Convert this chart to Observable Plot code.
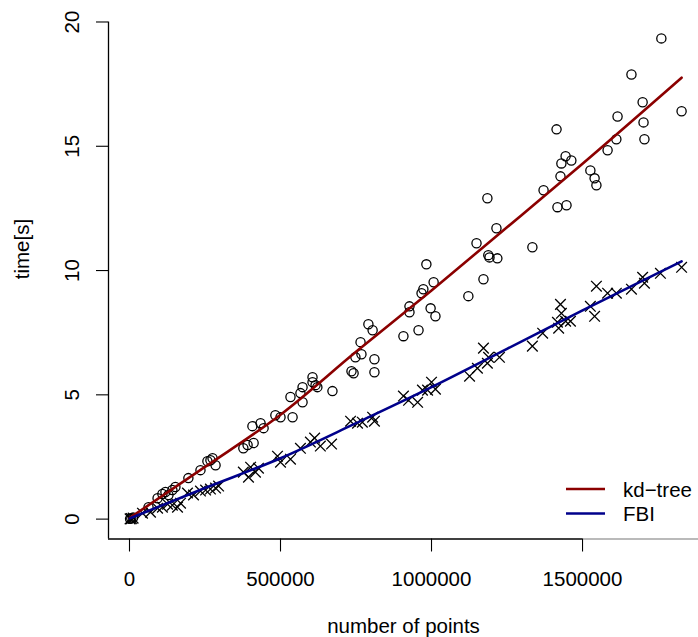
<!DOCTYPE html>
<html><head><meta charset="utf-8">
<script src="https://cdn.jsdelivr.net/npm/d3@7"></script>
<script src="https://cdn.jsdelivr.net/npm/@observablehq/plot@0.6"></script>
<style>body{margin:0;background:#fff} svg{display:block}</style>
</head><body><div id="chart"></div>
<script>
// kd-tree measurements (number of points, seconds)
const kdN = [2000, 6000, 12000, 63000, 93000, 109000, 119000, 129000, 142000, 152000, 195000, 235000, 258000, 275000, 285000, 268000,
  377000, 391000, 411000, 407000, 434000, 444000, 483000, 500000, 533000, 540000, 566000, 573000, 573000, 606000, 606000, 616000, 622000, 672000,
  735000, 742000, 748000, 768000, 765000, 791000, 805000, 811000, 811000, 907000, 927000, 927000, 957000, 967000, 973000, 983000, 997000, 1013000, 1007000,
  1122000, 1149000, 1172000, 1185000, 1188000, 1192000, 1218000, 1215000, 1334000, 1371000, 1414000, 1417000, 1447000, 1427000, 1430000, 1444000, 1463000,
  1526000, 1540000, 1546000, 1583000, 1612000, 1616000, 1662000, 1699000, 1702000, 1705000, 1761000, 1828000];
const kdTime = [0.01, 0.03, 0.06, 0.48, 0.84, 1.01, 1.09, 0.97, 1.17, 1.29, 1.65, 1.97, 2.33, 2.45, 2.17, 2.37,
  2.85, 2.98, 3.06, 3.74, 3.86, 3.66, 4.18, 4.10, 4.91, 4.10, 5.07, 4.70, 5.31, 5.71, 5.51, 5.39, 5.31, 5.15,
  5.95, 5.87, 6.51, 6.63, 7.12, 7.84, 7.60, 6.43, 5.91, 7.36, 8.56, 8.32, 7.60, 9.09, 9.25, 10.25, 8.48, 8.16, 9.53,
  8.97, 11.10, 9.65, 12.91, 10.62, 10.53, 10.49, 11.70, 10.94, 13.23, 15.68, 12.55, 12.63, 13.79, 14.31, 14.60, 14.43,
  14.03, 13.71, 13.43, 14.84, 15.28, 16.20, 17.89, 16.77, 15.96, 15.28, 19.34, 16.41];

// FBI measurements
const fbiN = [2000, 6000, 12000, 43000, 69500, 93000, 109000, 126000, 142000, 159000, 169000, 192000, 212000, 235000, 252000, 268000, 285000, 295000,
  377000, 394000, 401000, 417000, 427000, 490000, 500000, 533000, 566000, 599000, 613000, 632000, 669000,
  732000, 755000, 771000, 805000, 811000, 907000, 924000, 954000, 970000, 987000, 1000000, 1013000,
  1126000, 1152000, 1172000, 1185000, 1189000, 1225000, 1334000, 1368000, 1417000, 1421000, 1427000, 1430000, 1444000, 1460000,
  1526000, 1540000, 1546000, 1583000, 1612000, 1662000, 1699000, 1705000, 1758000, 1828000];
const fbiTime = [0.01, 0.02, 0.04, 0.24, 0.28, 0.44, 0.48, 0.60, 0.56, 0.48, 0.64, 1.05, 0.97, 1.13, 1.17, 1.21, 1.25, 1.33,
  1.89, 1.69, 2.09, 1.89, 2.05, 2.53, 2.29, 2.41, 2.85, 3.10, 3.26, 2.94, 3.02,
  3.94, 3.86, 3.90, 4.10, 3.94, 4.95, 4.78, 4.70, 5.19, 5.19, 5.51, 5.23,
  5.75, 6.07, 6.88, 6.27, 6.51, 6.51, 6.96, 7.48, 7.92, 7.68, 8.64, 8.28, 7.96, 7.96,
  8.56, 8.16, 9.37, 9.09, 9.09, 9.25, 9.73, 9.49, 9.89, 10.13];

// fitted curves
const fitN = [1000, 250000, 500000, 750000, 1000000, 1250000, 1500000, 1828000];
const kdFit = [0.05, 2.1, 4.2, 6.73, 9.2, 11.74, 14.3, 17.76];
const fbiFit = [0.03, 1.25, 2.45, 3.86, 5.31, 6.85, 8.4, 10.37];

const xTicks = [0, 500000, 1000000, 1500000];
const yTicks = [0, 5, 10, 15, 20];
const seriesNames = ["kd\u2212tree", "FBI"];
const seriesColors = ["#8B0000", "#00008B"];

const font = "'Liberation Sans', Arial, Helvetica, sans-serif";
const fs = 20.5;
const xDomain = [-69500, 1884000];
const yDomain = [-0.8, 20.1];

const kd = kdN.map((n, i) => ({n, t: kdTime[i]}));
const fbi = fbiN.map((n, i) => ({n, t: fbiTime[i]}));
const kdLine = fitN.map((n, i) => ({n, t: kdFit[i]}));
const fbiLine = fitN.map((n, i) => ({n, t: fbiFit[i]}));

const chart = Plot.plot({
  width: 698, height: 637,
  marginLeft: 108, marginRight: 0, marginTop: 19, marginBottom: 98.5,
  x: {domain: xDomain, axis: null},
  y: {domain: yDomain, axis: null},
  style: {fontFamily: font, fontSize: fs + "px", background: "white", color: "black"},
  marks: [
    Plot.dot(kd, {x: "n", y: "t", r: 4.6, stroke: "black", strokeWidth: 1.3, fill: "none"}),
    Plot.dot(fbi, {x: "n", y: "t", symbol: "times", r: 4.9, stroke: "black", strokeWidth: 1.3}),
    Plot.line(kdLine, {x: "n", y: "t", stroke: seriesColors[0], strokeWidth: 2.6, curve: "monotone-x"}),
    Plot.line(fbiLine, {x: "n", y: "t", stroke: seriesColors[1], strokeWidth: 2.6, curve: "monotone-x"}),
    Plot.ruleX([xDomain[0]], {y1: yDomain[0], y2: d3.max(yTicks), stroke: "black", strokeWidth: 1.3}),
    Plot.ruleY([yDomain[0]], {x1: xDomain[0], x2: d3.max(xTicks), stroke: "black", strokeWidth: 1.3}),
    Plot.ruleY([yDomain[0]], {x1: d3.max(xTicks), x2: xDomain[1], stroke: "#777", strokeWidth: 1.1}),
    Plot.axisX({ticks: xTicks, tickSize: 13, tickFormat: () => "", label: null, strokeWidth: 1.1}),
    Plot.axisY({ticks: yTicks, tickSize: 12, tickFormat: () => "", label: null, strokeWidth: 1.1}),
    Plot.text(xTicks, {x: d => d, frameAnchor: "bottom", dy: 40, lineAnchor: "middle", text: d => String(d), fontSize: fs}),
    Plot.text(yTicks, {y: d => d, frameAnchor: "left", dx: -36, rotate: -90, textAnchor: "middle", lineAnchor: "middle", text: d => String(d), fontSize: fs}),
    Plot.text(["number of points"], {frameAnchor: "bottom", dy: 87, lineAnchor: "middle", fontSize: fs}),
    Plot.text(["time[s]"], {frameAnchor: "left", dx: -86, rotate: -90, lineAnchor: "middle", fontSize: fs})
  ]
});

// legend (bottom right, inside plot)
const svg = d3.select(chart);
const lg = svg.append("g").attr("font-family", font).attr("font-size", fs).attr("text-anchor", "start");
seriesNames.forEach((name, i) => {
  const yy = 489 + i * 24.5;
  lg.append("line").attr("x1", 566).attr("x2", 605).attr("y1", yy).attr("y2", yy)
    .attr("stroke", seriesColors[i]).attr("stroke-width", 2.6);
  lg.append("text").attr("x", 623).attr("y", yy + 7.5).attr("fill", "black").text(name);
});

document.getElementById("chart").appendChild(chart);
</script>
</body></html>
